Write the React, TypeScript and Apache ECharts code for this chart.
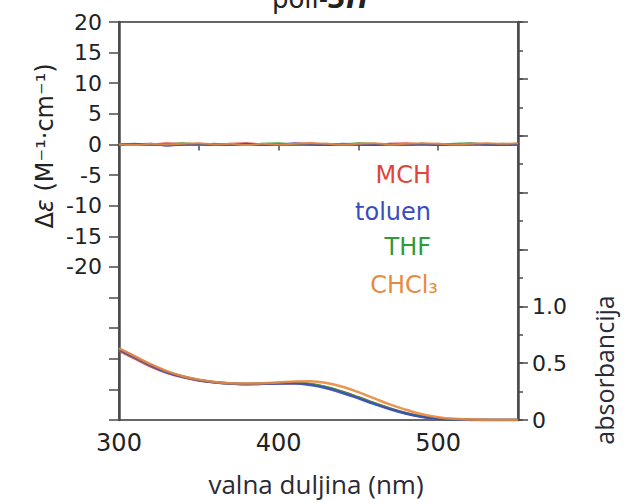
import React, { useEffect, useRef } from "react";
import * as echarts from "echarts";

const wavelengths = [300, 310, 320, 330, 340, 350, 360, 370, 380, 390, 400, 410, 420, 430, 440, 450, 460, 470, 480, 490, 500, 510, 520, 530, 540, 550];

// CD signal (Δε), essentially zero with small noise
const cdMCH = [0.1, -0.1, 0.0, 0.2, 0.1, -0.1, 0.0, 0.1, 0.2, 0.0, -0.1, 0.1, 0.2, 0.0, -0.1, 0.1, 0.0, 0.1, 0.2, 0.0, 0.1, -0.1, 0.0, 0.1, 0.0, 0.1];
const cdToluen = [-0.1, 0.0, 0.1, -0.2, 0.0, 0.1, -0.1, 0.0, 0.1, -0.1, 0.0, 0.2, 0.0, -0.1, 0.1, 0.0, -0.1, 0.1, 0.0, 0.1, -0.1, 0.0, 0.1, 0.0, -0.1, 0.0];
const cdTHF = [0.0, 0.1, -0.1, 0.0, 0.2, 0.0, 0.1, -0.1, 0.0, 0.1, 0.2, 0.0, -0.1, 0.1, 0.0, 0.2, 0.1, 0.0, -0.1, 0.1, 0.0, 0.1, 0.2, 0.0, 0.1, 0.0];
const cdCHCl3 = [0.0, -0.1, 0.1, 0.0, 0.1, 0.2, 0.0, 0.1, -0.1, 0.1, 0.0, 0.1, 0.2, 0.1, 0.0, 0.1, 0.2, 0.0, 0.1, 0.2, 0.1, 0.0, 0.1, 0.2, 0.1, 0.2];

// Absorbance
const absMCH = [0.61, 0.54, 0.47, 0.415, 0.375, 0.348, 0.33, 0.32, 0.315, 0.318, 0.323, 0.326, 0.315, 0.288, 0.248, 0.2, 0.148, 0.1, 0.06, 0.03, 0.012, 0.005, 0.002, 0.0, 0.0, 0.0];
const absToluen = [0.62, 0.55, 0.48, 0.42, 0.38, 0.35, 0.332, 0.321, 0.316, 0.318, 0.321, 0.322, 0.308, 0.279, 0.238, 0.19, 0.14, 0.094, 0.055, 0.027, 0.011, 0.004, 0.001, 0.0, 0.0, 0.0];
const absTHF = [0.62, 0.555, 0.485, 0.425, 0.382, 0.352, 0.333, 0.322, 0.317, 0.32, 0.325, 0.327, 0.316, 0.288, 0.247, 0.198, 0.147, 0.1, 0.059, 0.03, 0.012, 0.004, 0.001, 0.0, 0.0, 0.0];
const absCHCl3 = [0.63, 0.56, 0.49, 0.43, 0.385, 0.355, 0.335, 0.324, 0.32, 0.323, 0.33, 0.338, 0.34, 0.325, 0.292, 0.245, 0.19, 0.135, 0.09, 0.05, 0.025, 0.01, 0.004, 0.002, 0.0, 0.0];

const solvents = ["MCH", "toluen", "THF", "CHCl₃"];
const colors = ["#e0453a", "#3b4cc0", "#2e9a3a", "#e88a3e"];
const cdSeries = [cdMCH, cdToluen, cdTHF, cdCHCl3];
const absSeries = [absMCH, absToluen, absTHF, absCHCl3];
const drawOrder = [0, 2, 1, 3];

const xTickLabels = [300, 400, 500];
const leftTickLabels = [20, 15, 10, 5, 0, -5, -10, -15, -20];
const rightTickLabels = [0, 0.5, 1.0];

const App: React.FC = () => {
  const ref = useRef<HTMLDivElement>(null);
  useEffect(() => {
    if (!ref.current) return;
    const chart = echarts.init(ref.current, null, { renderer: "svg" });
    const axisColor = "#4a4a4a";
    const labelFont = "'DejaVu Sans', sans-serif";
    const series: any[] = [];
    drawOrder.forEach((i) => {
      series.push({
        type: "line",
        name: solvents[i] + " CD",
        xAxisIndex: 0,
        yAxisIndex: 0,
        data: wavelengths.map((w, j) => [w, cdSeries[i][j]]),
        showSymbol: false,
        smooth: 0.3,
        lineStyle: { color: colors[i], width: 2, opacity: 0.9 },
      });
    });
    drawOrder.forEach((i) => {
      series.push({
        type: "line",
        name: solvents[i],
        xAxisIndex: 0,
        yAxisIndex: 1,
        data: wavelengths.map((w, j) => [w, absSeries[i][j]]),
        showSymbol: false,
        smooth: 0.4,
        lineStyle: { color: colors[i], width: 2.5, opacity: 0.9 },
      });
    });

    const legendY = [175, 212, 247, 285];
    const graphic: any[] = [
      {
        type: "text",
        x: 320,
        y: 12,
        style: {
          text: "{n|poli-}{b|3H}",
          textAlign: "center",
          textVerticalAlign: "bottom",
          rich: {
            n: { fontSize: 26, fontFamily: labelFont, fill: "#222" },
            b: { fontSize: 26, fontFamily: labelFont, fontWeight: "bold", fontStyle: "italic", fill: "#222" },
          },
        },
      },
      {
        type: "text",
        x: 45,
        y: 146,
        rotation: Math.PI / 2,
        style: {
          text: "{a|Δ}{e|ε}{a| (M⁻¹·cm⁻¹)}",
          textAlign: "center",
          textVerticalAlign: "middle",
          rich: {
            a: { fontSize: 24, fontFamily: labelFont, fill: "#222" },
            e: { fontSize: 24, fontFamily: labelFont, fontStyle: "italic", fill: "#222" },
          },
        },
      },
      {
        type: "text",
        x: 604,
        y: 370,
        rotation: Math.PI / 2,
        style: {
          text: "absorbancija",
          textAlign: "center",
          textVerticalAlign: "middle",
          fontSize: 25,
          fontFamily: "'Open Sans', sans-serif",
          fill: "#2a2a36",
        },
      },
      {
        type: "text",
        x: 316,
        y: 484,
        style: {
          text: "valna duljina (nm)",
          textAlign: "center",
          textVerticalAlign: "middle",
          fontSize: 26,
          fontFamily: "'Open Sans', sans-serif",
          fill: "#2a2a36",
        },
      },
    ];
    solvents.forEach((s, i) => {
      graphic.push({
        type: "text",
        x: i === 3 ? 438 : 431,
        y: legendY[i],
        style: {
          text: s,
          textAlign: "right",
          textVerticalAlign: "middle",
          fontSize: 24,
          fontFamily: labelFont,
          fill: colors[i],
        },
      });
    });

    chart.setOption({
      animation: false,
      backgroundColor: "#ffffff",
      grid: {
        left: 119,
        right: 113,
        top: 22,
        bottom: 82,
        show: true,
        borderColor: "#666",
        borderWidth: 2,
        backgroundColor: "transparent",
      },
      xAxis: [
        {
          type: "value",
          min: 300,
          max: 550,
          interval: 50,
          position: "bottom",
          axisLine: { show: true, lineStyle: { color: axisColor, width: 2.5 } },
          axisTick: { show: true, inside: false, length: 6, lineStyle: { color: axisColor, width: 1.5 } },
          axisLabel: {
            margin: 11,
            fontSize: 24,
            fontFamily: labelFont,
            color: "#222",
            formatter: (v: number) => (xTickLabels.includes(v) ? String(v) : ""),
          },
          splitLine: { show: false },
        },
      ],
      yAxis: [
        {
          type: "value",
          min: -45,
          max: 20,
          interval: 5,
          position: "left",
          axisLine: { show: true, lineStyle: { color: axisColor, width: 2.5 } },
          axisTick: { show: true, inside: false, length: 10, lineStyle: { color: axisColor, width: 1.5 } },
          axisLabel: {
            margin: 17,
            fontSize: 22,
            fontFamily: labelFont,
            color: "#222",
            formatter: (v: number) => (leftTickLabels.includes(v) ? String(v) : ""),
          },
          splitLine: { show: false },
        },
        {
          type: "value",
          min: 0,
          max: 3.5,
          interval: 0.5,
          position: "right",
          axisLine: { show: true, lineStyle: { color: axisColor, width: 2.5 } },
          axisTick: { show: true, inside: false, length: 10, lineStyle: { color: axisColor, width: 1.5 } },
          axisLabel: {
            margin: 14,
            fontSize: 22,
            fontFamily: labelFont,
            color: "#222",
            formatter: (v: number) =>
              rightTickLabels.includes(v) ? (v === 0 ? "0" : v.toFixed(1)) : "",
          },
          splitLine: { show: false },
        },
        {
          type: "value",
          min: 0,
          max: 3.5,
          interval: 0.25,
          position: "right",
          axisLine: { show: false },
          axisTick: { show: true, inside: false, length: 5, lineStyle: { color: axisColor, width: 1.5 } },
          axisLabel: { show: false },
          splitLine: { show: false },
        },
      ],
      series,
      graphic,
    });
    return () => chart.dispose();
  }, []);
  return (
    <div
      ref={ref}
      style={{ position: "fixed", left: 0, top: 0, width: 631, height: 502, background: "#fff" }}
    />
  );
};

export default App;
